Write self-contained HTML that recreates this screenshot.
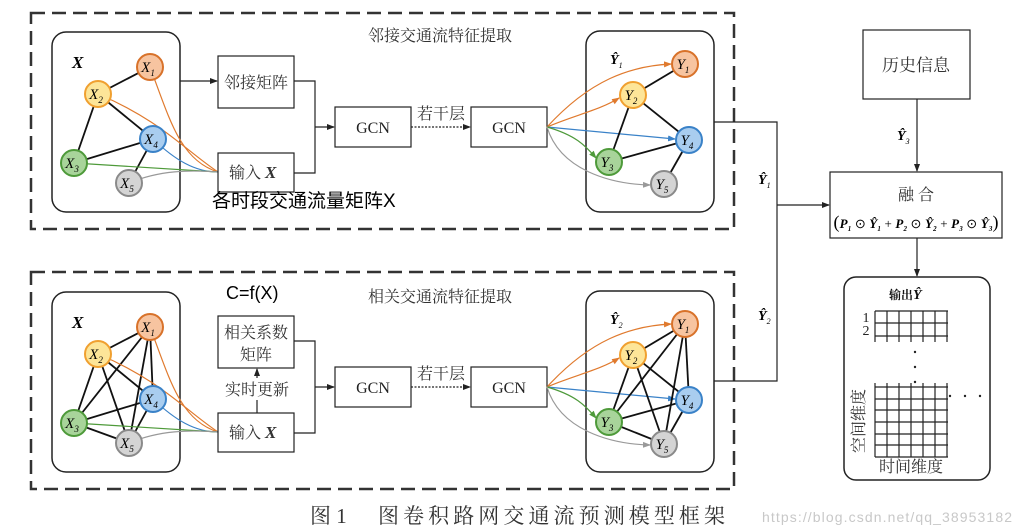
<!DOCTYPE html>
<html><head><meta charset="utf-8"><style>
html,body{margin:0;padding:0;background:#fff;}
svg{display:block;}
.s{font-family:"Liberation Serif","Noto Serif CJK SC",serif;}
.ss{font-family:"Liberation Sans","Noto Sans CJK SC",sans-serif;}
.it{font-family:"Liberation Serif",serif;font-style:italic;}
</style></head><body>
<svg width="1021" height="531" viewBox="0 0 1021 531" xmlns="http://www.w3.org/2000/svg">
<defs>
<marker id="a" markerWidth="8" markerHeight="8" refX="7" refY="4" orient="auto" markerUnits="userSpaceOnUse"><path d="M0,1 L8,4 L0,7 Z" fill="#222"/></marker>
<marker id="ao" markerWidth="8" markerHeight="8" refX="7" refY="4" orient="auto" markerUnits="userSpaceOnUse"><path d="M0,1 L8,4 L0,7 Z" fill="#e07a2e"/></marker>
<marker id="ab" markerWidth="8" markerHeight="8" refX="7" refY="4" orient="auto" markerUnits="userSpaceOnUse"><path d="M0,1 L8,4 L0,7 Z" fill="#3a82c8"/></marker>
<marker id="ag" markerWidth="8" markerHeight="8" refX="7" refY="4" orient="auto" markerUnits="userSpaceOnUse"><path d="M0,1 L8,4 L0,7 Z" fill="#4e9a3a"/></marker>
<marker id="ay" markerWidth="8" markerHeight="8" refX="7" refY="4" orient="auto" markerUnits="userSpaceOnUse"><path d="M0,1 L8,4 L0,7 Z" fill="#999"/></marker>
</defs>

<!-- dashed boxes -->
<rect x="31" y="13" width="703" height="216" fill="none" stroke="#333" stroke-width="2.5" stroke-dasharray="14,7"/>
<rect x="31" y="272" width="703" height="217" fill="none" stroke="#333" stroke-width="2.5" stroke-dasharray="14,7"/>

<text x="440" y="41" class="s" font-size="16" fill="#333" text-anchor="middle">邻接交通流特征提取</text>
<text x="440" y="302" class="s" font-size="16" fill="#333" text-anchor="middle">相关交通流特征提取</text>

<!-- ===== TOP HALF ===== -->
<g id="top">
<rect x="52" y="32" width="128" height="180" rx="14" fill="none" stroke="#222" stroke-width="1.5"/>
<text x="72" y="68" class="it" font-size="17" font-weight="bold">X</text>
<g stroke="#111" stroke-width="1.8">
<line x1="150" y1="67" x2="98" y2="94"/><line x1="98" y1="94" x2="74" y2="163"/>
<line x1="98" y1="94" x2="153" y2="139"/><line x1="74" y1="163" x2="153" y2="139"/>
<line x1="153" y1="139" x2="129" y2="183"/>
</g>
<g fill="none" stroke-width="1.2">
<path d="M150,67 C170,120 180,160 218,172" stroke="#e07a2e"/>
<path d="M98,94 C160,120 185,150 218,172" stroke="#e07a2e"/>
<path d="M153,139 C175,160 195,172 218,172" stroke="#3a82c8"/>
<path d="M74,163 L218,172" stroke="#4e9a3a"/>
<path d="M129,183 C160,170 190,170 218,172" stroke="#999"/>
</g>
<line x1="180" y1="81" x2="217" y2="81" stroke="#222" stroke-width="1.2" marker-end="url(#a)"/>
<rect x="218" y="56" width="76" height="52" fill="#fff" stroke="#222" stroke-width="1.2"/>
<text x="256" y="88" class="s" font-size="16" fill="#333" text-anchor="middle">邻接矩阵</text>
<rect x="218" y="153" width="76" height="39" fill="#fff" stroke="#222" stroke-width="1.2"/>
<text x="229" y="178" class="s" font-size="16" fill="#333">输入 <tspan class="it" font-weight="bold" font-size="17">X</tspan></text>
<polyline points="294,81 315,81 315,173 294,173" fill="none" stroke="#222" stroke-width="1.2"/>
<line x1="315" y1="127" x2="334" y2="127" stroke="#222" stroke-width="1.2" marker-end="url(#a)"/>
<rect x="335" y="107" width="76" height="40" fill="#fff" stroke="#222" stroke-width="1.2"/>
<text x="373" y="133" class="s" font-size="16" fill="#222" text-anchor="middle">GCN</text>
<line x1="411" y1="127" x2="470" y2="127" stroke="#222" stroke-width="1.2" stroke-dasharray="2,1.5" marker-end="url(#a)"/>
<text x="441" y="119" class="s" font-size="16" fill="#333" text-anchor="middle">若干层</text>
<rect x="471" y="107" width="76" height="40" fill="#fff" stroke="#222" stroke-width="1.2"/>
<text x="509" y="133" class="s" font-size="16" fill="#222" text-anchor="middle">GCN</text>

<rect x="586" y="31" width="128" height="181" rx="14" fill="none" stroke="#222" stroke-width="1.5"/>
<g fill="none" stroke-width="1.2">
<path d="M547,127 C590,80 630,66 671,64" stroke="#e07a2e" marker-end="url(#ao)"/>
<path d="M547,127 C575,115 600,110 619,98" stroke="#e07a2e" marker-end="url(#ao)"/>
<path d="M547,127 L675,139" stroke="#3a82c8" marker-end="url(#ab)"/>
<path d="M547,127 C575,135 585,145 596,158" stroke="#4e9a3a" marker-end="url(#ag)"/>
<path d="M547,127 C560,170 610,184 650,185" stroke="#999" marker-end="url(#ay)"/>
</g>
<g stroke="#111" stroke-width="1.8">
<line x1="685" y1="64" x2="633" y2="95"/><line x1="633" y1="95" x2="609" y2="162"/>
<line x1="633" y1="95" x2="689" y2="140"/><line x1="609" y1="162" x2="689" y2="140"/>
<line x1="689" y1="140" x2="664" y2="184"/>
</g>
</g>

<!-- nodes top left -->
<g class="it" font-size="15" text-anchor="middle">
<circle cx="150" cy="67" r="13" fill="#f7c4a0" stroke="#d8722a" stroke-width="2"/><text x="148" y="72">X<tspan font-size="9" dy="4">1</tspan></text>
<circle cx="98" cy="94" r="13" fill="#fde598" stroke="#f0a030" stroke-width="2"/><text x="96" y="99">X<tspan font-size="9" dy="4">2</tspan></text>
<circle cx="153" cy="139" r="13" fill="#a9cdef" stroke="#3a82c8" stroke-width="2"/><text x="151" y="144">X<tspan font-size="9" dy="4">4</tspan></text>
<circle cx="74" cy="163" r="13" fill="#a8d49a" stroke="#4e9a3a" stroke-width="2"/><text x="72" y="168">X<tspan font-size="9" dy="4">3</tspan></text>
<circle cx="129" cy="183" r="13" fill="#d4d4d4" stroke="#8a8a8a" stroke-width="2"/><text x="127" y="188">X<tspan font-size="9" dy="4">5</tspan></text>
<circle cx="685" cy="64" r="13" fill="#f7c4a0" stroke="#d8722a" stroke-width="2"/><text x="683" y="69">Y<tspan font-size="9" dy="4">1</tspan></text>
<circle cx="633" cy="95" r="13" fill="#fde598" stroke="#f0a030" stroke-width="2"/><text x="631" y="100">Y<tspan font-size="9" dy="4">2</tspan></text>
<circle cx="689" cy="140" r="13" fill="#a9cdef" stroke="#3a82c8" stroke-width="2"/><text x="687" y="145">Y<tspan font-size="9" dy="4">4</tspan></text>
<circle cx="609" cy="162" r="13" fill="#a8d49a" stroke="#4e9a3a" stroke-width="2"/><text x="607" y="167">Y<tspan font-size="9" dy="4">3</tspan></text>
<circle cx="664" cy="184" r="13" fill="#d4d4d4" stroke="#8a8a8a" stroke-width="2"/><text x="662" y="189">Y<tspan font-size="9" dy="4">5</tspan></text>
</g>
<text x="610" y="64" class="it" font-size="14" font-weight="bold">Ŷ<tspan font-size="8" dy="4" font-weight="normal">1</tspan></text>
<text x="212" y="207" class="ss" font-size="19" fill="#000">各时段交通流量矩阵X</text>

<!-- ===== BOTTOM HALF ===== -->
<g transform="translate(0,260)">
<rect x="52" y="32" width="128" height="180" rx="14" fill="none" stroke="#222" stroke-width="1.5"/>
<text x="72" y="68" class="it" font-size="17" font-weight="bold">X</text>
<g stroke="#111" stroke-width="1.8">
<line x1="150" y1="67" x2="98" y2="94"/><line x1="150" y1="67" x2="74" y2="163"/><line x1="150" y1="67" x2="153" y2="139"/><line x1="150" y1="67" x2="129" y2="183"/>
<line x1="98" y1="94" x2="74" y2="163"/><line x1="98" y1="94" x2="153" y2="139"/><line x1="98" y1="94" x2="129" y2="183"/>
<line x1="74" y1="163" x2="153" y2="139"/><line x1="74" y1="163" x2="129" y2="183"/><line x1="153" y1="139" x2="129" y2="183"/>
</g>
<g fill="none" stroke-width="1.2">
<path d="M150,67 C170,120 180,160 218,172" stroke="#e07a2e"/>
<path d="M98,94 C160,120 185,150 218,172" stroke="#e07a2e"/>
<path d="M153,139 C175,160 195,172 218,172" stroke="#3a82c8"/>
<path d="M74,163 L218,172" stroke="#4e9a3a"/>
<path d="M129,183 C160,170 190,170 218,172" stroke="#999"/>
</g>
<rect x="218" y="56" width="76" height="52" fill="#fff" stroke="#222" stroke-width="1.2"/>
<text x="256" y="78" class="s" font-size="16" fill="#333" text-anchor="middle">相关系数</text>
<text x="256" y="100" class="s" font-size="16" fill="#333" text-anchor="middle">矩阵</text>
<line x1="257" y1="153" x2="257" y2="109" stroke="#222" stroke-width="1.2" marker-end="url(#a)"/>
<rect x="216" y="118" width="82" height="22" fill="#fff"/>
<text x="257" y="135" class="s" font-size="16" fill="#333" text-anchor="middle">实时更新</text>
<rect x="218" y="153" width="76" height="39" fill="#fff" stroke="#222" stroke-width="1.2"/>
<text x="229" y="178" class="s" font-size="16" fill="#333">输入 <tspan class="it" font-weight="bold" font-size="17">X</tspan></text>
<polyline points="294,81 315,81 315,173 294,173" fill="none" stroke="#222" stroke-width="1.2"/>
<line x1="315" y1="127" x2="334" y2="127" stroke="#222" stroke-width="1.2" marker-end="url(#a)"/>
<rect x="335" y="107" width="76" height="40" fill="#fff" stroke="#222" stroke-width="1.2"/>
<text x="373" y="133" class="s" font-size="16" fill="#222" text-anchor="middle">GCN</text>
<line x1="411" y1="127" x2="470" y2="127" stroke="#222" stroke-width="1.2" stroke-dasharray="2,1.5" marker-end="url(#a)"/>
<text x="441" y="119" class="s" font-size="16" fill="#333" text-anchor="middle">若干层</text>
<rect x="471" y="107" width="76" height="40" fill="#fff" stroke="#222" stroke-width="1.2"/>
<text x="509" y="133" class="s" font-size="16" fill="#222" text-anchor="middle">GCN</text>

<rect x="586" y="31" width="128" height="181" rx="14" fill="none" stroke="#222" stroke-width="1.5"/>
<g fill="none" stroke-width="1.2">
<path d="M547,127 C590,80 630,66 671,64" stroke="#e07a2e" marker-end="url(#ao)"/>
<path d="M547,127 C575,115 600,110 619,98" stroke="#e07a2e" marker-end="url(#ao)"/>
<path d="M547,127 L675,139" stroke="#3a82c8" marker-end="url(#ab)"/>
<path d="M547,127 C575,135 585,145 596,158" stroke="#4e9a3a" marker-end="url(#ag)"/>
<path d="M547,127 C560,170 610,184 650,185" stroke="#999" marker-end="url(#ay)"/>
</g>
<g stroke="#111" stroke-width="1.8">
<line x1="685" y1="64" x2="633" y2="95"/><line x1="685" y1="64" x2="609" y2="162"/><line x1="685" y1="64" x2="689" y2="140"/><line x1="685" y1="64" x2="664" y2="184"/>
<line x1="633" y1="95" x2="609" y2="162"/><line x1="633" y1="95" x2="689" y2="140"/><line x1="633" y1="95" x2="664" y2="184"/>
<line x1="609" y1="162" x2="689" y2="140"/><line x1="609" y1="162" x2="664" y2="184"/><line x1="689" y1="140" x2="664" y2="184"/>
</g>
<g class="it" font-size="15" text-anchor="middle">
<circle cx="150" cy="67" r="13" fill="#f7c4a0" stroke="#d8722a" stroke-width="2"/><text x="148" y="72">X<tspan font-size="9" dy="4">1</tspan></text>
<circle cx="98" cy="94" r="13" fill="#fde598" stroke="#f0a030" stroke-width="2"/><text x="96" y="99">X<tspan font-size="9" dy="4">2</tspan></text>
<circle cx="153" cy="139" r="13" fill="#a9cdef" stroke="#3a82c8" stroke-width="2"/><text x="151" y="144">X<tspan font-size="9" dy="4">4</tspan></text>
<circle cx="74" cy="163" r="13" fill="#a8d49a" stroke="#4e9a3a" stroke-width="2"/><text x="72" y="168">X<tspan font-size="9" dy="4">3</tspan></text>
<circle cx="129" cy="183" r="13" fill="#d4d4d4" stroke="#8a8a8a" stroke-width="2"/><text x="127" y="188">X<tspan font-size="9" dy="4">5</tspan></text>
<circle cx="685" cy="64" r="13" fill="#f7c4a0" stroke="#d8722a" stroke-width="2"/><text x="683" y="69">Y<tspan font-size="9" dy="4">1</tspan></text>
<circle cx="633" cy="95" r="13" fill="#fde598" stroke="#f0a030" stroke-width="2"/><text x="631" y="100">Y<tspan font-size="9" dy="4">2</tspan></text>
<circle cx="689" cy="140" r="13" fill="#a9cdef" stroke="#3a82c8" stroke-width="2"/><text x="687" y="145">Y<tspan font-size="9" dy="4">4</tspan></text>
<circle cx="609" cy="162" r="13" fill="#a8d49a" stroke="#4e9a3a" stroke-width="2"/><text x="607" y="167">Y<tspan font-size="9" dy="4">3</tspan></text>
<circle cx="664" cy="184" r="13" fill="#d4d4d4" stroke="#8a8a8a" stroke-width="2"/><text x="662" y="189">Y<tspan font-size="9" dy="4">5</tspan></text>
</g>
<text x="610" y="64" class="it" font-size="14" font-weight="bold">Ŷ<tspan font-size="8" dy="4" font-weight="normal">2</tspan></text>
</g>
<text x="226" y="299" class="ss" font-size="18" fill="#000">C=f(X)</text>

<!-- right side connectors -->
<polyline points="714,122 777,122 777,381 714,381" fill="none" stroke="#222" stroke-width="1.2"/>
<line x1="777" y1="205" x2="829" y2="205" stroke="#222" stroke-width="1.2" marker-end="url(#a)"/>
<text x="758" y="184" class="it" font-size="14" font-weight="bold">Ŷ<tspan font-size="8" dy="4" font-weight="normal">1</tspan></text>
<text x="758" y="320" class="it" font-size="14" font-weight="bold">Ŷ<tspan font-size="8" dy="4" font-weight="normal">2</tspan></text>

<rect x="863" y="30" width="107" height="69" fill="#fff" stroke="#222" stroke-width="1.2"/>
<text x="916" y="71" class="s" font-size="17" fill="#333" text-anchor="middle">历史信息</text>
<line x1="917" y1="99" x2="917" y2="171" stroke="#222" stroke-width="1.2" marker-end="url(#a)"/>
<text x="897" y="140" class="it" font-size="14" font-weight="bold">Ŷ<tspan font-size="8" dy="4" font-weight="normal">3</tspan></text>

<rect x="830" y="172" width="172" height="66" fill="#fff" stroke="#222" stroke-width="1.2"/>
<text x="916" y="200" class="s" font-size="16" fill="#333" text-anchor="middle">融  合</text>
<text x="916" y="228" class="it" font-size="13" font-weight="bold" text-anchor="middle" textLength="165"><tspan font-weight="normal" font-style="normal" font-size="18">(</tspan>P<tspan font-size="7" dy="3">1</tspan><tspan dy="-3" font-weight="normal" font-style="normal"> ⊙ </tspan>Ŷ<tspan font-size="7" dy="3">1</tspan><tspan dy="-3" font-weight="normal" font-style="normal"> + </tspan>P<tspan font-size="7" dy="3">2</tspan><tspan dy="-3" font-weight="normal" font-style="normal"> ⊙ </tspan>Ŷ<tspan font-size="7" dy="3">2</tspan><tspan dy="-3" font-weight="normal" font-style="normal"> + </tspan>P<tspan font-size="7" dy="3">3</tspan><tspan dy="-3" font-weight="normal" font-style="normal"> ⊙ </tspan>Ŷ<tspan font-size="7" dy="3">3</tspan><tspan dy="-3" font-weight="normal" font-style="normal" font-size="18">)</tspan></text>
<line x1="917" y1="238" x2="917" y2="276" stroke="#222" stroke-width="1.2" marker-end="url(#a)"/>

<rect x="844" y="277" width="146" height="203" rx="12" fill="none" stroke="#222" stroke-width="1.5"/>
<text x="889" y="299" class="s" font-size="12" font-weight="bold" fill="#111">输出<tspan class="it" font-size="14">Ŷ</tspan></text>
<g stroke="#222" stroke-width="1.2">
<line x1="875" y1="311" x2="948" y2="311"/><line x1="875" y1="323" x2="948" y2="323"/><line x1="875" y1="336" x2="948" y2="336"/>
<line x1="875" y1="311" x2="875" y2="342"/><line x1="887" y1="311" x2="887" y2="342"/><line x1="899" y1="311" x2="899" y2="342"/><line x1="911" y1="311" x2="911" y2="342"/><line x1="923" y1="311" x2="923" y2="342"/><line x1="935" y1="311" x2="935" y2="342"/><line x1="947" y1="311" x2="947" y2="342"/>
<line x1="875" y1="387" x2="948" y2="387"/><line x1="875" y1="399" x2="948" y2="399"/><line x1="875" y1="410" x2="948" y2="410"/><line x1="875" y1="422" x2="948" y2="422"/><line x1="875" y1="434" x2="948" y2="434"/><line x1="875" y1="445" x2="948" y2="445"/><line x1="875" y1="457" x2="948" y2="457"/>
<line x1="875" y1="383" x2="875" y2="457"/><line x1="887" y1="383" x2="887" y2="457"/><line x1="899" y1="383" x2="899" y2="457"/><line x1="911" y1="383" x2="911" y2="457"/><line x1="923" y1="383" x2="923" y2="457"/><line x1="935" y1="383" x2="935" y2="457"/><line x1="947" y1="383" x2="947" y2="457"/>
</g>
<g fill="#222"><circle cx="915" cy="352" r="1.2"/><circle cx="915" cy="367" r="1.2"/><circle cx="915" cy="382" r="1.2"/><circle cx="950" cy="396" r="1.2"/><circle cx="965" cy="396" r="1.2"/><circle cx="980" cy="396" r="1.2"/></g>
<text x="866" y="322" class="s" font-size="14" fill="#222" text-anchor="middle">1</text>
<text x="866" y="335" class="s" font-size="14" fill="#222" text-anchor="middle">2</text>
<text transform="translate(864,421) rotate(-90)" class="s" font-size="16" fill="#333" text-anchor="middle">空间维度</text>
<text x="911" y="472" class="s" font-size="16" fill="#333" text-anchor="middle">时间维度</text>

<!-- caption -->
<text x="310" y="523" class="s" font-size="21" fill="#333">图 1</text>
<text x="378" y="523" class="s" font-size="21" fill="#333" textLength="347">图卷积路网交通流预测模型框架</text>
<text x="762" y="522" class="ss" font-size="14" fill="#c8c8c8" textLength="250">https://blog.csdn.net/qq_38953182</text>
</svg>
</body></html>
